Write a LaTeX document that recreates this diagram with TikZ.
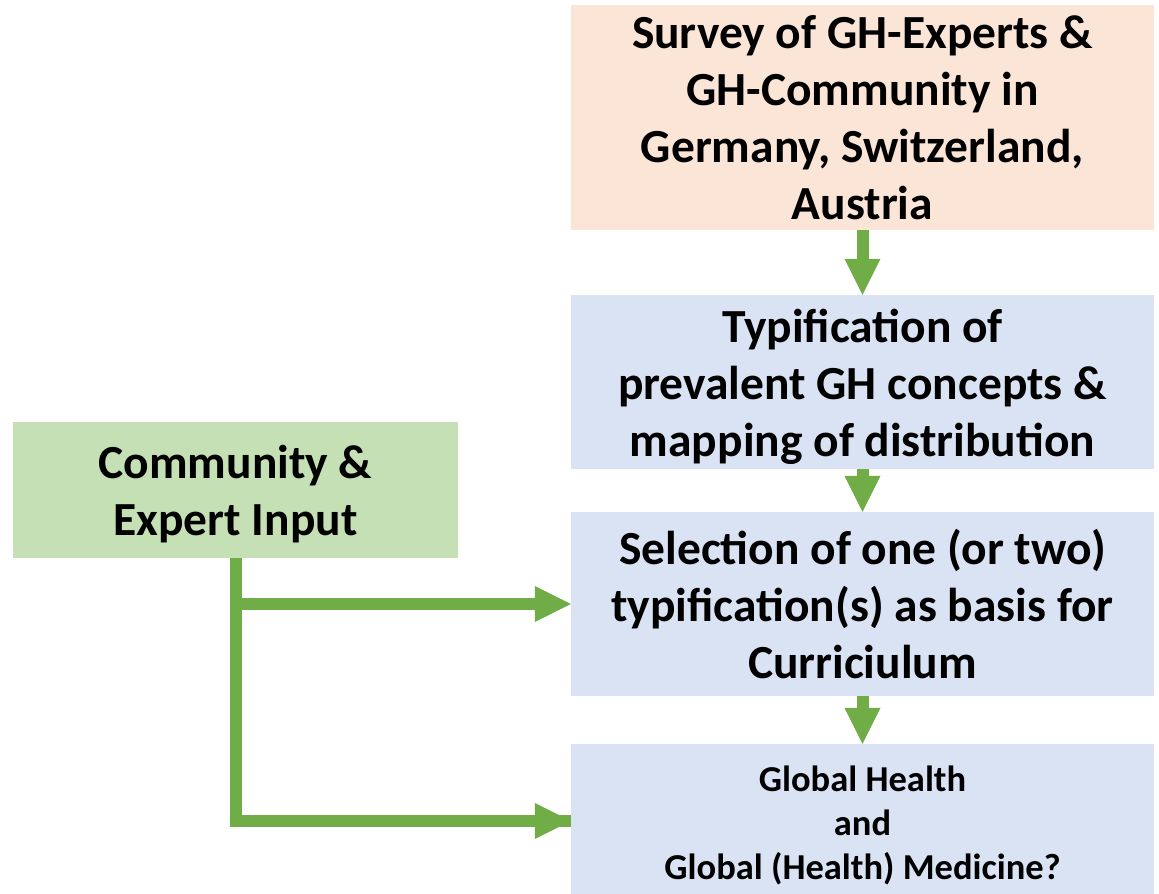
\documentclass[tikz,border=0pt]{standalone}
\usepackage{fontspec}
\setmainfont{Carlito}
\usetikzlibrary{arrows.meta}
\definecolor{peach}{HTML}{FBE5D6}
\definecolor{bluebox}{HTML}{DAE3F3}
\definecolor{greenbox}{HTML}{C5E0B4}
\definecolor{arrowgreen}{HTML}{70AD47}
\newcommand{\topstrut}[1]{\rule{0pt}{#1}}
\tikzset{
  x=1pt, y=-1pt,
  box/.style={fill=#1, draw=none, inner sep=0pt, align=center,
    font=\fontsize{47.5}{57}\selectfont\bfseries, text=black},
  flow/.style={draw=arrowgreen, line width=12pt,
    -{Triangle[length=36pt,width=36pt,line width=0pt 0 0]}},
  feed/.style={draw=arrowgreen, line width=12pt, line join=miter}
}
\begin{document}
\begin{tikzpicture}
\useasboundingbox (0,0) rectangle (1159,894);
\node[box=peach, minimum width=583pt, minimum height=225pt] (survey) at (862.5,117.5)
  {Survey of GH-Experts \&\\GH-Community in\\Germany, Switzerland,\\Austria};
\node[box=bluebox, minimum width=583pt, minimum height=174pt] (typ) at (862.5,382)
  {\topstrut{44pt}Typification of\\prevalent GH concepts \&\\mapping of distribution};
\node[box=bluebox, minimum width=583pt, minimum height=184pt] (sel) at (862.5,604)
  {Selection of one (or two)\\typification(s) as basis for\\Curriciulum};
\node[box=bluebox, minimum width=583pt, minimum height=150pt,
  font=\fontsize{36.5}{44}\selectfont\bfseries] (gh) at (862.5,819)
  {\topstrut{38pt}Global Health\\and\\Global (Health) Medicine?};
\node[box=greenbox, minimum width=445pt, minimum height=136pt] (comm) at (235.5,490)
  {\topstrut{42pt}Community \&\\Expert Input};
\draw[flow] (survey.south) -- (typ.north);
\draw[flow] (typ.south) -- (sel.north);
\draw[flow] (sel.south) -- (gh.north);
\coordinate (branch) at (comm.south |- sel.west);
\coordinate (ghin) at ([yshift=-2pt]gh.west);
\draw[feed] (comm.south) |- (ghin);
\draw[flow] (branch) -- (sel.west);
\draw[flow] (comm.south |- ghin) -- (ghin);
\end{tikzpicture}
\end{document}
